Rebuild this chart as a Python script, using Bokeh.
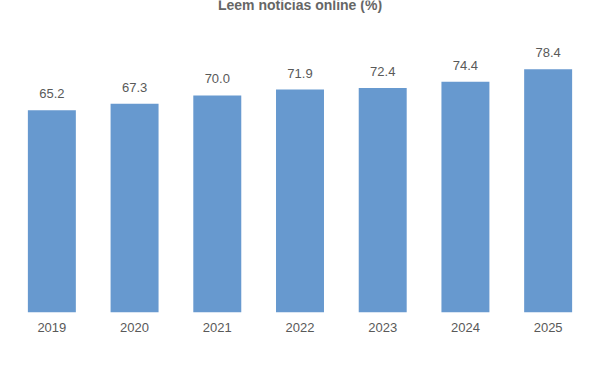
from bokeh.plotting import figure
from bokeh.models import ColumnDataSource, Range1d
from bokeh.core.properties import value
from bokeh.embed import file_html
from bokeh.resources import INLINE

years = ["2019", "2020", "2021", "2022", "2023", "2024", "2025"]
values = [65.2, 67.3, 70.0, 71.9, 72.4, 74.4, 78.4]
labels = [f"{v:.1f}" for v in values]
title_text = "Leem notícias online (%)"

src = ColumnDataSource(dict(x=years, top=values, label=labels))

y_top = 100.6
p = figure(x_range=years, y_range=Range1d(0, y_top), width=600, height=372,
           output_backend="svg", toolbar_location=None,
           min_border_left=10, min_border_right=11, min_border_top=0, min_border_bottom=60)

p.vbar(x="x", top="top", width=0.58, source=src, color="#6799cf", line_color=None)
p.text(x="x", y="top", text="label", source=src, text_align="center", text_baseline="bottom",
       y_offset=-12, text_font=value("Liberation Sans"), text_font_size="13px", text_color="#595959")

p.text(x=[3.5], y=[99.1], text=[title_text], text_align="center", text_baseline="alphabetic",
       text_font=value("Liberation Sans"), text_font_size="14px", text_font_style="bold",
       text_color="#666666")

p.yaxis.visible = False
p.xaxis.axis_line_color = None
p.xaxis.major_tick_line_color = None
p.xaxis.minor_tick_line_color = None
p.xaxis.major_label_standoff = 4
p.xaxis.major_label_text_font = "Liberation Sans"
p.xaxis.major_label_text_font_size = "13px"
p.xaxis.major_label_text_color = "#595959"
p.xgrid.grid_line_color = None
p.ygrid.grid_line_color = None
p.outline_line_color = None
p.x_range.range_padding = 0

open("out.html", "w").write(file_html(p, INLINE))
